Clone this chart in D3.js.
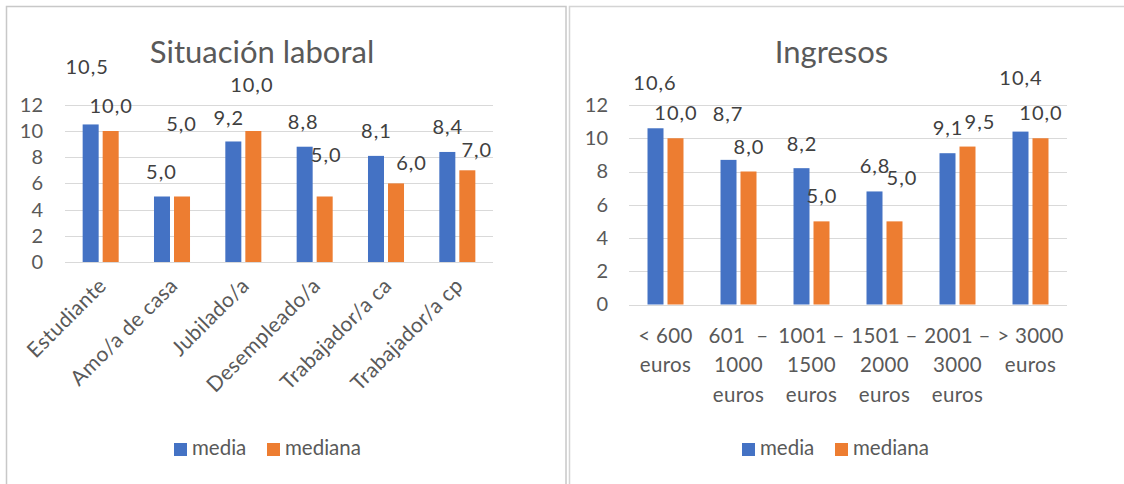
<!DOCTYPE html>
<html><head><meta charset="utf-8">
<script src="https://cdn.jsdelivr.net/npm/d3@7/dist/d3.min.js"></script>
<style>
html,body{margin:0;padding:0;background:#fff;}
svg{display:block;font-family:Lato,"Open Sans",sans-serif;}
</style></head>
<body>
<svg id="c" width="1124" height="484"></svg>
<script>
// ---------- data ----------
const series = ["media", "mediana"];
const colors = ["#4472C4", "#ED7D31"];

const laboralCategories = ["Estudiante", "Amo/a de casa", "Jubilado/a", "Desempleado/a", "Trabajador/a ca", "Trabajador/a cp"];
const laboralMedia   = [10.5, 5.0, 9.2, 8.8, 8.1, 8.4];
const laboralMediana = [10.0, 5.0, 10.0, 5.0, 6.0, 7.0];

const ingresosCategories = ["< 600 euros", "601 – 1000 euros", "1001 – 1500 euros", "1501 – 2000 euros", "2001 – 3000 euros", "> 3000 euros"];
const ingresosLines = [["< 600", "euros"], ["601 \u00a0–", "1000", "euros"], ["1001 –", "1500", "euros"], ["1501 –", "2000", "euros"], ["2001 –", "3000", "euros"], ["> 3000", "euros"]];
const ingresosMedia   = [10.6, 8.7, 8.2, 6.8, 9.1, 10.4];
const ingresosMediana = [10.0, 8.0, 5.0, 5.0, 9.5, 10.0];

const yTicks = [0, 2, 4, 6, 8, 10, 12];

// label nudges (pixels, [dx, dy] from bar top centre) to mimic the original manual placement
const laboralNudge = [
  [[-4,-50],[-1,-18],[-5,-16],[-2,-18],[0,-18],[0,-18]],
  [[0,-18],[-1,-66],[-2,-39],[1,-35],[15,-13],[9,-13]]
];
const ingresosNudge = [
  [[-1,-38],[-1,-39],[0,-17],[0,-18],[0,-18],[0,-47]],
  [[0,-18],[0,-18],[0,-18],[7,-36],[12,-18],[0,-18]]
];

const fmt = v => v.toFixed(1).replace(".", ",");
const svg = d3.select("#c");
const TXT = "#595959";

// panel borders
svg.append("rect").attr("x",6.5).attr("y",6.5).attr("width",559.5).attr("height",490).attr("fill","none").attr("stroke","#c8c8c8").attr("stroke-width",1.5);
svg.append("rect").attr("x",569.5).attr("y",6.5).attr("width",600).attr("height",490).attr("fill","none").attr("stroke","#d4d4d4").attr("stroke-width",1.5);

function drawChart(cfg){
  const g = svg.append("g");
  const x = d3.scaleBand().domain(cfg.categories).range([cfg.x0, cfg.x1]).paddingInner(cfg.pad).paddingOuter(cfg.pad/2);
  const xs = d3.scaleBand().domain(series).range([0, x.bandwidth()]).paddingInner(0.2);
  const y = d3.scaleLinear().domain([0, 12]).range([cfg.yBottom, cfg.yTop]);

  // gridlines
  g.append("g").selectAll("line").data(yTicks).join("line")
    .attr("x1", cfg.x0).attr("x2", cfg.x1)
    .attr("y1", d => Math.round(y(d))+0.5).attr("y2", d => Math.round(y(d))+0.5)
    .attr("stroke", "#d9d9d9").attr("stroke-width", 1);

  // y axis tick labels
  const ya = d3.axisLeft(y).tickValues(yTicks).tickSize(0).tickPadding(0).tickFormat(d3.format("d"));
  const yg = g.append("g").attr("transform", `translate(${cfg.tickRight},0)`).call(ya);
  yg.select(".domain").remove();
  yg.selectAll("text").attr("fill", TXT).attr("font-size", 20).attr("font-family", "Lato,sans-serif");

  const vals = [cfg.media, cfg.mediana];
  series.forEach((s, si) => {
    g.append("g").selectAll("rect").data(cfg.categories).join("rect")
      .attr("x", c => x(c) + xs(s))
      .attr("width", xs.bandwidth())
      .attr("y", (c, i) => y(vals[si][i]))
      .attr("height", (c, i) => y(0) - y(vals[si][i]))
      .attr("fill", colors[si]);
    g.append("g").selectAll("text").data(cfg.categories).join("text")
      .attr("x", (c, i) => x(c) + xs(s) + xs.bandwidth()/2 + cfg.nudge[si][i][0] + 0.5)
      .attr("y", (c, i) => y(vals[si][i]) + cfg.nudge[si][i][1])
      .attr("text-anchor", "middle").attr("font-size", 20).attr("letter-spacing", 1).attr("fill", "#404040")
      .text((c, i) => fmt(vals[si][i]));
  });

  // title
  g.append("text").attr("x", cfg.titleX).attr("y", 63).attr("text-anchor","middle")
    .attr("font-size", 31).attr("fill", TXT).text(cfg.title);

  // category labels
  if (cfg.rotate) {
    g.append("g").selectAll("text").data(cfg.categories).join("text")
      .attr("transform", c => `translate(${x(c) + x.bandwidth()/2 + 7},${cfg.yBottom + 25}) rotate(-45)`)
      .attr("text-anchor", "end").attr("font-size", 21).attr("letter-spacing", 0.4).attr("fill", TXT).text(c => c);
  } else {
    const lg = g.append("g").selectAll("text").data(cfg.categories).join("text")
      .attr("text-anchor", "middle").attr("font-size", 20.5).attr("letter-spacing", 0.3).attr("fill", TXT);
    lg.each(function(c, i){
      d3.select(this).selectAll("tspan").data(cfg.lines[i]).join("tspan")
        .attr("x", x(c) + x.bandwidth()/2)
        .attr("y", (d, k) => cfg.yBottom + 38 + k*29.5)
        .text(d => d);
    });
  }

  // legend
  const leg = g.append("g").attr("transform", `translate(${cfg.legX},0)`);
  const items = [{s:"media", off:0}, {s:"mediana", off:93}];
  items.forEach((it, k) => {
    leg.append("rect").attr("x", it.off).attr("y", 443).attr("width", 13).attr("height", 13).attr("fill", colors[k]);
    leg.append("text").attr("x", it.off + 18).attr("y", 455).attr("font-size", 20.5).attr("fill", TXT).text(it.s);
  });
}

drawChart({categories: laboralCategories, media: laboralMedia, mediana: laboralMediana, nudge: laboralNudge,
  x0: 65, x1: 493, pad: 0.495, yBottom: 262, yTop: 104.8, tickRight: 43, title: "Situación laboral", titleX: 262,
  rotate: true, legX: 174});
drawChart({categories: ingresosCategories, lines: ingresosLines, media: ingresosMedia, mediana: ingresosMediana, nudge: ingresosNudge,
  x0: 629, x1: 1067, pad: 0.507, yBottom: 304.5, yTop: 105, tickRight: 608, title: "Ingresos", titleX: 831.5,
  rotate: false, legX: 742});
</script>
</body></html>
